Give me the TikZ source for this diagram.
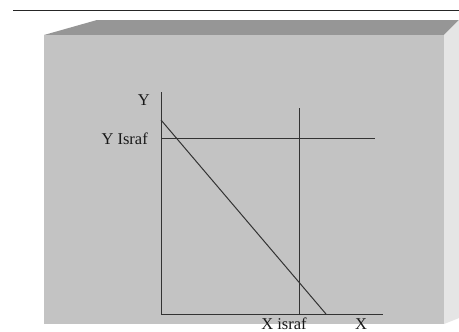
\documentclass[tikz,border=0pt]{standalone}
\usepackage{fontspec}
\setmainfont{Liberation Serif}
\begin{document}
\begin{tikzpicture}[x=1pt,y=-1pt,
  lbl/.style={font=\fontsize{16.5}{16.5}\selectfont, text=black!90, inner sep=0pt},
  ln/.style={draw=black!80, line width=1pt}]
\useasboundingbox (0,0) rectangle (459,332);
\fill[white] (0,0) rectangle (459,332);
% top rule
\draw[black!85, line width=1.1pt] (13,10.5) -- (459,10.5);
% box
\fill[black!41] (44,35) -- (97,20) -- (459,20) -- (444,35) -- cycle;
\fill[black!10] (444,35) -- (459,20) -- (459,318) -- (444,324) -- cycle;
\fill[black!23.5] (44,35) rectangle (444,324);
% chart
\coordinate (O) at (161,314);
\coordinate (Ytop) at (161,92);
\coordinate (Xend) at (383,314);
\coordinate (Hl) at (161,138);
\coordinate (Hr) at (375,138);
\coordinate (Vt) at (299,108);
\coordinate (Vb) at (299,314);
\coordinate (Ds) at (161,120);
\coordinate (De) at (326,314);
\draw[ln] (Ytop) -- (O) -- (Xend);
\draw[ln] (Hl) -- (Hr);
\draw[ln] (Vt) -- (Vb);
\draw[ln] (Ds) -- (De);
\node[lbl, anchor=base east] (ylab) at (150,105) {Y};
\node[lbl, anchor=base east] (yisraf) at (148,144) {Y Israf};
\node[lbl, anchor=base] (xisraf) at (284,329) {X israf};
\node[lbl, anchor=base] (xlab) at (361,329) {X};
\end{tikzpicture}
\end{document}
